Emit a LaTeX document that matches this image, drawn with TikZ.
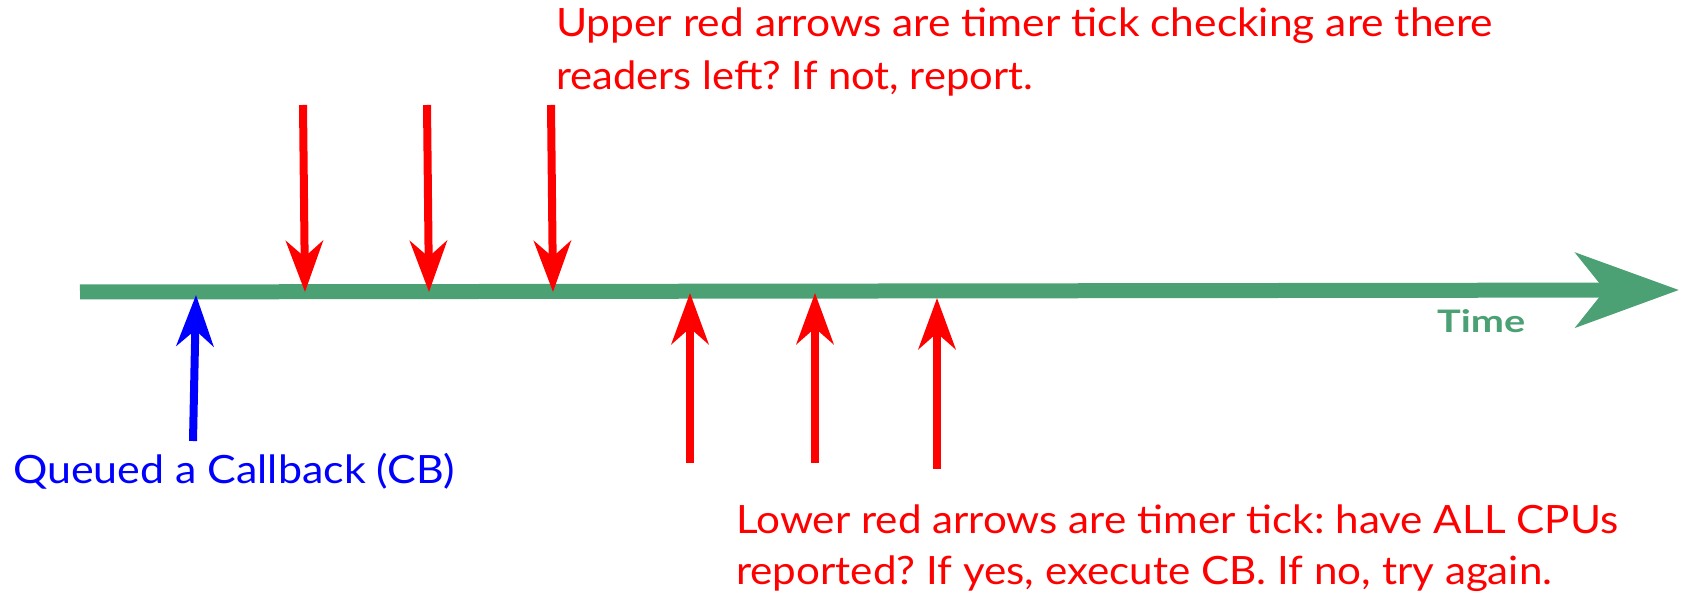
\documentclass[tikz,border=0pt]{standalone}
\usepackage{fontspec}
\setmainfont{Lato}
\usetikzlibrary{arrows.meta}
\definecolor{axisgreen}{RGB}{76,161,116}
\definecolor{tickred}{RGB}{255,0,0}
\definecolor{cbblue}{RGB}{0,0,255}
\newcommand{\fitline}[2]{\resizebox{#1pt}{\height}{#2}}
\begin{document}
\frenchspacing
\begin{tikzpicture}[x=1pt,y=-1pt,
  tick/.style={line width=8pt,-{Stealth[length=51pt,width=37pt,inset=16pt]}},
  redtick/.style={tick,draw=tickred,fill=tickred},
  bluetick/.style={tick,draw=cbblue,fill=cbblue},
  axis/.style={line width=15pt,draw=axisgreen,-{Stealth[length=103pt,width=74pt,inset=29pt,fill=axisgreen]}},
  lbl/.style={inner sep=0pt,anchor=base west,align=left,font=\fontsize{39}{53}\selectfont}
]
\useasboundingbox (0,0) rectangle (1683,593);
% axis
\coordinate (a0) at (80,292);
\coordinate (a1) at (1679,290);
\draw[axis] (a0) -- (a1);
\node[inner sep=0pt,anchor=base west,text=axisgreen,font=\fontsize{31}{31}\selectfont\bfseries] (time) at (1437,333) {\fitline{88}{Time}};
% upper ticks
\coordinate (u1s) at (303,105); \coordinate (u1e) at (305,292);
\coordinate (u2s) at (427,105); \coordinate (u2e) at (429,292);
\coordinate (u3s) at (551,105); \coordinate (u3e) at (553,292);
\draw[redtick] (u1s) -- (u1e);
\draw[redtick] (u2s) -- (u2e);
\draw[redtick] (u3s) -- (u3e);
% lower ticks
\coordinate (l1s) at (690,463); \coordinate (l1e) at (690,293);
\coordinate (l2s) at (815,463); \coordinate (l2e) at (815,293);
\coordinate (l3s) at (937,469); \coordinate (l3e) at (937,298);
\draw[redtick] (l1s) -- (l1e);
\draw[redtick] (l2s) -- (l2e);
\draw[redtick] (l3s) -- (l3e);
% blue
\coordinate (bs) at (193,441); \coordinate (be) at (196,295);
\draw[bluetick] (bs) -- (be);
% labels
\node[lbl,text=tickred] (upper) at (556,90) {\fitline{937}{Upper red arrows are timer tick checking are there}\\\fitline{477}{readers left? If not, report.}};
\node[lbl,text=tickred,font=\fontsize{39}{51}\selectfont] (lower) at (736,584) {\fitline{882}{Lower red arrows are timer tick: have ALL CPUs}\\\fitline{816}{reported? If yes, execute CB. If no, try again.}};
\node[lbl,text=cbblue] (cb) at (13,483) {\fitline{442}{Queued a Callback (CB)}};
\end{tikzpicture}
\end{document}
